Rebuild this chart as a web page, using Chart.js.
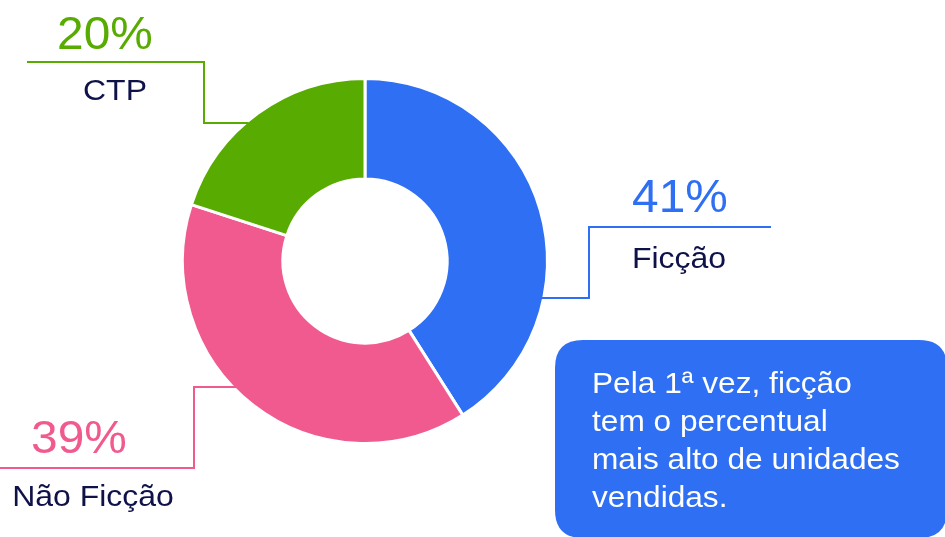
<!DOCTYPE html>
<html>
<head>
<meta charset="utf-8">
<script src="https://cdn.jsdelivr.net/npm/chart.js@4.4.0/dist/chart.umd.min.js"></script>
<style>
  html, body { margin: 0; padding: 0; background: #ffffff; }
  #wrap { position: relative; width: 945px; height: 537px; }
  canvas { display: block; }
</style>
</head>
<body>
<div id="wrap"><canvas id="c" width="945" height="537"></canvas></div>
<script>
const categories = ['Ficção', 'Não Ficção', 'CTP'];
const values = [41, 39, 20];
const valueLabels = ['41%', '39%', '20%'];
const colors = ['#2E6FF3', '#F05A8F', '#58AB00'];
const noteLines = ['Pela 1ª vez, ficção', 'tem o percentual', 'mais alto de unidades', 'vendidas.'];

const FONT = '"Liberation Sans", Arial, Helvetica, sans-serif';
const DARK = '#0E1248';

// annotation layout (leader lines + labels), in canvas pixels
const callouts = [
  { // Ficção
    lineY: 298, elbowX: 589, topY: 227, endX: 771, side: 1,
    pctX: 680, pctY: 212, nameX: 679, nameY: 268
  },
  { // Não Ficção
    lineY: 387, elbowX: 194, topY: 468, endX: 0, side: -1,
    pctX: 79, pctY: 453, nameX: 93, nameY: 506
  },
  { // CTP
    lineY: 123, elbowX: 204, topY: 62, endX: 27, side: -1,
    pctX: 105, pctY: 49, nameX: 115, nameY: 100
  }
];

function roundRect(ctx, x, y, w, h, r) {
  ctx.beginPath();
  ctx.moveTo(x + r, y);
  ctx.lineTo(x + w - r, y);
  ctx.quadraticCurveTo(x + w, y, x + w, y + r);
  ctx.lineTo(x + w, y + h - r);
  ctx.quadraticCurveTo(x + w, y + h, x + w - r, y + h);
  ctx.lineTo(x + r, y + h);
  ctx.quadraticCurveTo(x, y + h, x, y + h - r);
  ctx.lineTo(x, y + r);
  ctx.quadraticCurveTo(x, y, x + r, y);
  ctx.closePath();
}

function wideText(ctx, text, x, y, sx) {
  ctx.save();
  ctx.translate(x, y);
  ctx.scale(sx, 1);
  ctx.fillText(text, 0, 0);
  ctx.restore();
}

const annotate = {
  id: 'annotate',
  afterDraw(chart) {
    const ctx = chart.ctx;
    const meta = chart.getDatasetMeta(0);
    ctx.save();
    meta.data.forEach((arc, i) => {
      const c = callouts[i];
      const cx = arc.x, cy = arc.y, R = arc.outerRadius;
      const dy = c.lineY - cy;
      const dx = Math.sqrt(Math.max(R * R - dy * dy, 0)) - 3;
      const startX = cx + c.side * dx;
      ctx.strokeStyle = colors[i];
      ctx.lineWidth = 2;
      ctx.beginPath();
      ctx.moveTo(startX, c.lineY);
      ctx.lineTo(c.elbowX, c.lineY);
      ctx.lineTo(c.elbowX, c.topY);
      ctx.lineTo(c.endX, c.topY);
      ctx.stroke();

      ctx.textAlign = 'center';
      ctx.textBaseline = 'alphabetic';
      ctx.fillStyle = colors[i];
      ctx.font = '46px ' + FONT;
      wideText(ctx, valueLabels[i], c.pctX, c.pctY, 1.04);
      ctx.fillStyle = DARK;
      ctx.font = '30px ' + FONT;
      wideText(ctx, categories[i], c.nameX, c.nameY, 1.065);
    });

    // note box
    ctx.fillStyle = '#2E6FF3';
    roundRect(ctx, 555, 340, 392, 198, 28);
    ctx.fill();
    ctx.fillStyle = '#ffffff';
    ctx.font = '30px ' + FONT;
    ctx.textAlign = 'left';
    noteLines.forEach((t, k) => wideText(ctx, t, 592, 393 + k * 38, 1.055));
    ctx.restore();
  }
};

new Chart(document.getElementById('c'), {
  type: 'doughnut',
  data: {
    labels: categories,
    datasets: [{
      data: values,
      backgroundColor: colors,
      borderColor: '#ffffff',
      borderWidth: 3,
      hoverOffset: 0
    }]
  },
  options: {
    responsive: false,
    animation: false,
    cutout: '45%',
    rotation: 0,
    layout: { padding: { left: 181, right: 396, top: 77, bottom: 92 } },
    plugins: {
      legend: { display: false },
      tooltip: { enabled: false },
      title: { display: false }
    }
  },
  plugins: [annotate]
});
</script>
</body>
</html>
